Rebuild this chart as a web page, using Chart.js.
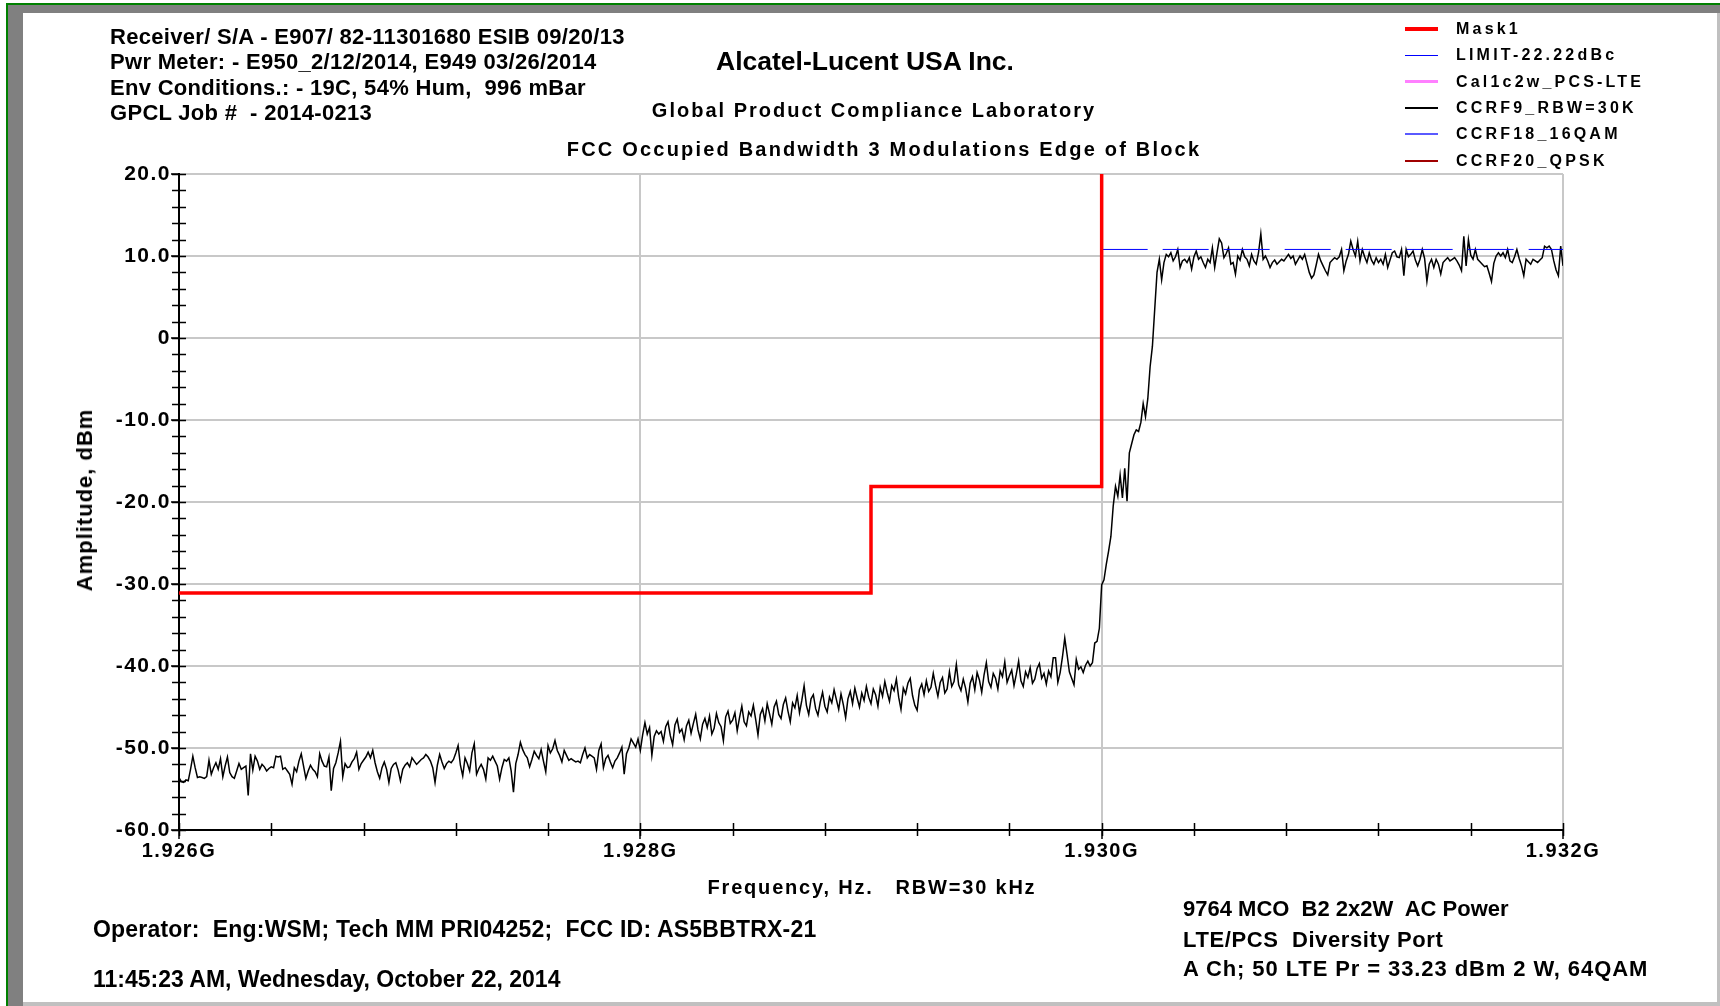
<!DOCTYPE html>
<html>
<head>
<meta charset="utf-8">
<script src="https://cdn.jsdelivr.net/npm/chart.js@4.4.1/dist/chart.umd.min.js"></script>
<style>
  html, body { margin: 0; padding: 0; width: 1720px; height: 1006px; overflow: hidden; background: #fff; }
  body { font-family: "Liberation Sans", Arial, sans-serif; font-weight: bold; color: #000; }
  .box { position: absolute; }
  #chart { position: absolute; left: 0; top: 0; }
  .txt { position: absolute; white-space: pre; line-height: 1; }
  .mid { transform: translate(-50%, -50%); }
  .lft { transform: translateY(-50%); }
  .legRow { position: absolute; left: 1405px; height: 20px; width: 300px; }
  .legRow .swatch { position: absolute; left: 0; width: 33px; }
  .legRow span { position: absolute; left: 51px; top: 50%; transform: translateY(-50%); font-size: 16px; letter-spacing: 3.2px; line-height: 1; white-space: pre; }
</style>
</head>
<body>
<!-- window frame -->
<div class="box" style="left:6px;top:3px;width:1714px;height:2px;background:#008000"></div>
<div class="box" style="left:6px;top:3px;width:2px;height:1003px;background:#008000"></div>
<div class="box" style="left:8px;top:5px;width:1712px;height:8px;background:#808080"></div>
<div class="box" style="left:8px;top:5px;width:15px;height:1001px;background:#808080"></div>
<div class="box" style="left:1717px;top:13px;width:3px;height:993px;background:#c0c0c0"></div>
<div class="box" style="left:23px;top:1002px;width:1697px;height:4px;background:#c0c0c0"></div>

<canvas id="chart" width="1720" height="1006"></canvas>

<div class="txt" style="left:110px;top:24px;font-size:22px;line-height:25.3px;letter-spacing:0.3px">Receiver/ S/A - E907/ 82-11301680 ESIB 09/20/13
Pwr Meter: - E950_2/12/2014, E949 03/26/2014
Env Conditions.: - 19C, 54% Hum,  996 mBar
GPCL Job #  - 2014-0213</div>
<div class="txt mid" style="left:865px;top:61px;font-size:26.5px">Alcatel-Lucent USA Inc.</div>
<div class="txt mid" style="left:874px;top:110px;font-size:20px;letter-spacing:2px">Global Product Compliance Laboratory</div>
<div class="txt mid" style="left:884px;top:149px;font-size:20px;letter-spacing:2.2px">FCC Occupied Bandwidth 3 Modulations Edge of Block</div>
<div class="txt" style="left:84.5px;top:500px;font-size:22px;letter-spacing:1px;transform:translate(-50%,-50%) rotate(-90deg)">Amplitude, dBm</div>
<div class="txt mid" style="left:872px;top:887px;font-size:20px;letter-spacing:1.8px">Frequency, Hz.   RBW=30 kHz</div>
<div class="txt lft" style="left:93px;top:929px;font-size:23px;letter-spacing:0.2px">Operator:  Eng:WSM; Tech MM PRI04252;  FCC ID: AS5BBTRX-21</div>
<div class="txt lft" style="left:93px;top:979px;font-size:23px">11:45:23 AM, Wednesday, October 22, 2014</div>
<div class="txt lft" style="left:1183px;top:909px;font-size:22px">9764 MCO  B2 2x2W  AC Power</div>
<div class="txt lft" style="left:1183px;top:940px;font-size:22px;letter-spacing:0.6px">LTE/PCS  Diversity Port</div>
<div class="txt lft" style="left:1183px;top:969px;font-size:22px;letter-spacing:0.9px">A Ch; 50 LTE Pr = 33.23 dBm 2 W, 64QAM</div>
<div id="legend"></div>

<script>
// series names (legend order)
const seriesNames = ['Mask1', 'LIMIT-22.22dBc', 'Cal1c2w_PCS-LTE', 'CCRF9_RBW=30K', 'CCRF18_16QAM', 'CCRF20_QPSK']

// axis ticks
const xTicksMHz = [1926, 1928, 1930, 1932]
const yTicksDbm = [-60, -50, -40, -30, -20, -10, 0, 10, 20]

// emission mask (step line)
const maskFreqMHz = [1926, 1929, 1929, 1930, 1930]
const maskDbm = [-31.1, -31.1, -18.1, -18.1, 20]

// limit line
const limitFreqMHz = [1930, 1932]
const limitDbm = [10.8, 10.8]

// measured trace, 1926 MHz start, 10 kHz sweep step
const sweepStartMHz = 1926
const sweepStepMHz = 0.01
const traceDbm = [
  -53.6,-54.1,-54.2,-53.9,-54.0,-52.6,-51.0,-52.4,-53.6,-53.5,-53.6,-53.7,-53.5,-51.5,-53.2,-52.4,-51.8,-52.6,-51.3,-53.5,
  -52.2,-51.1,-53.0,-53.5,-53.7,-52.8,-51.9,-52.6,-52.4,-52.2,-55.8,-50.7,-52.7,-51.0,-51.6,-52.6,-52.0,-52.3,-52.8,-52.5,
  -52.3,-52.4,-51.0,-51.1,-51.0,-52.6,-52.4,-52.8,-53.2,-54.4,-52.4,-52.9,-51.6,-50.7,-52.2,-53.7,-52.8,-52.1,-52.6,-52.9,
  -53.5,-50.7,-51.6,-52.2,-52.3,-51.1,-55.2,-52.5,-51.8,-50.6,-49.2,-53.5,-51.9,-52.4,-52.3,-51.7,-51.3,-50.5,-52.6,-51.9,
  -51.5,-51.1,-50.5,-51.2,-50.3,-51.8,-52.9,-53.7,-52.4,-51.7,-52.6,-54.2,-52.5,-52.0,-51.8,-52.7,-54.0,-52.6,-52.1,-51.8,
  -52.3,-51.2,-51.6,-52.0,-51.7,-51.4,-51.2,-50.8,-51.1,-51.6,-52.4,-54.2,-52.1,-50.8,-51.7,-52.5,-51.9,-51.6,-51.8,-51.4,
  -50.6,-49.7,-52.1,-53.4,-51.2,-51.9,-52.8,-50.6,-49.5,-53.2,-52.5,-52.0,-52.6,-53.8,-51.2,-51.5,-51.0,-51.6,-52.2,-53.8,
  -52.4,-51.4,-51.6,-51.2,-52.8,-55.4,-51.9,-50.8,-49.3,-50.2,-50.8,-51.2,-52.3,-51.4,-50.4,-50.9,-51.3,-50.2,-51.6,-52.9,
  -49.7,-50.6,-50.1,-49.1,-50.3,-50.9,-51.7,-50.3,-50.9,-51.5,-51.3,-51.5,-51.7,-51.6,-51.8,-50.8,-50.0,-51.2,-50.8,-51.0,
  -51.2,-52.6,-50.3,-49.5,-52.4,-51.3,-50.9,-51.7,-52.4,-51.6,-51.2,-50.6,-49.9,-53.2,-50.7,-50.0,-48.9,-49.4,-49.9,-48.9,
  -50.3,-48.4,-46.9,-48.3,-47.5,-50.9,-48.6,-47.9,-48.3,-48.0,-49.2,-47.4,-46.8,-48.5,-49.6,-47.2,-46.5,-48.1,-47.7,-49.0,
  -47.3,-46.6,-48.2,-47.0,-45.9,-47.8,-48.9,-47.1,-46.4,-47.5,-46.1,-48.3,-47.6,-45.8,-46.9,-47.4,-49.1,-46.2,-45.5,-47.0,
  -46.6,-45.7,-47.9,-46.3,-44.9,-46.8,-47.3,-45.6,-46.1,-44.8,-46.5,-48.4,-45.9,-45.2,-46.7,-44.6,-45.8,-47.1,-45.0,-44.3,
  -45.9,-46.4,-44.7,-43.9,-45.5,-46.8,-44.5,-45.1,-43.6,-45.7,-44.2,-42.4,-44.8,-45.9,-44.0,-43.5,-45.2,-46.0,-44.4,-43.2,
  -44.9,-45.6,-43.8,-44.5,-42.9,-44.1,-45.3,-43.4,-44.7,-46.3,-44.0,-43.1,-44.6,-42.7,-43.9,-45.0,-43.3,-44.2,-42.5,-43.8,
  -44.6,-42.8,-43.5,-44.9,-42.6,-43.7,-41.9,-43.2,-44.3,-42.4,-43.0,-41.6,-43.8,-45.3,-42.7,-43.4,-42.1,-41.5,-43.6,-44.8,
  -45.4,-42.9,-42.2,-43.5,-41.8,-43.1,-42.6,-40.9,-42.4,-43.7,-42.0,-41.4,-43.3,-42.8,-40.7,-42.5,-41.9,-39.8,-42.3,-43.0,
  -41.6,-42.7,-44.4,-42.1,-41.3,-42.9,-40.8,-41.7,-43.2,-41.1,-39.6,-41.9,-42.6,-40.9,-41.5,-42.8,-40.6,-41.3,-39.5,-42.0,
  -41.2,-40.5,-42.4,-41.0,-39.4,-41.8,-42.5,-40.7,-41.4,-40.2,-42.1,-41.6,-40.3,-39.7,-41.5,-40.9,-42.2,-40.6,-41.3,-39.0,
  -39.0,-42.0,-40.8,-38.9,-36.6,-38.6,-40.7,-41.5,-42.3,-39.2,-40.4,-40.1,-40.8,-39.9,-39.4,-40.0,-39.6,-37.2,-37.0,-35.4,
  -30.1,-29.5,-27.6,-26.0,-24.2,-20.5,-18.1,-19.3,-16.7,-19.5,-15.9,-19.9,-14.0,-12.9,-11.8,-11.2,-11.4,-10.3,-8.0,-9.6,
  -7.4,-3.5,-1.0,3.5,8.0,9.6,7.1,9.2,10.2,9.9,10.4,9.4,9.9,10.8,8.6,9.4,9.6,9.2,9.8,8.4,
  9.9,10.6,9.6,9.9,9.2,8.6,9.6,9.2,11.0,8.6,10.4,12.1,11.6,9.8,10.3,11.0,9.0,9.2,7.8,10.0,
  9.5,10.8,9.9,9.6,8.8,10.2,9.4,9.0,10.4,12.7,9.6,10.0,9.4,8.6,9.2,9.5,9.0,9.3,9.6,9.4,
  9.8,10.2,9.7,10.0,9.0,9.5,10.0,9.6,10.2,9.1,8.0,7.3,7.7,8.9,10.2,9.4,8.8,8.2,7.7,9.2,
  9.5,9.8,9.6,9.9,10.8,8.2,9.4,10.2,11.8,10.8,10.0,11.8,9.4,10.8,9.9,9.2,10.4,9.5,9.0,9.8,
  9.2,9.6,9.0,10.2,8.6,9.5,10.4,10.6,9.9,9.8,10.8,7.6,10.8,9.9,10.2,10.6,9.5,8.8,9.6,10.8,
  9.7,6.9,9.0,9.6,8.6,9.6,9.0,7.8,9.2,9.5,9.8,9.4,9.6,9.8,9.4,8.9,8.2,12.4,8.8,12.0,
  10.1,9.6,10.8,9.6,9.3,9.0,8.7,8.8,7.9,6.9,9.1,10.0,10.4,10.0,10.4,9.8,10.8,9.4,9.2,9.9,
  10.8,9.7,8.8,7.6,9.6,9.3,9.0,9.6,9.4,9.2,9.5,9.8,11.2,11.0,11.2,10.8,9.4,8.3,7.6,11.2,
  8.8
]

const pts = (xs, ys) => xs.map((x, i) => ({ x: x, y: ys[i] }))
const tracePts = traceDbm.map((v, i) => ({ x: sweepStartMHz + i * sweepStepMHz, y: v }))

const FONT = '"Liberation Sans", Arial, sans-serif'

// minor tick marks crossing both axes
const tickMarks = {
  id: 'tickMarks',
  beforeDraw(chart) {
    chart.ctx.letterSpacing = '1.5px'
  },
  afterDraw(chart) {
    const { ctx, chartArea: a } = chart
    const xs = chart.scales.x, ys = chart.scales.y
    ctx.save()
    ctx.letterSpacing = '0px'
    ctx.strokeStyle = '#000'
    ctx.lineWidth = 1.5
    ctx.beginPath()
    for (let k = 0; k <= 40; k++) {
      const py = Math.round(ys.getPixelForValue(-60 + k * 2)) + 0.5
      ctx.moveTo(a.left - 7, py)
      ctx.lineTo(a.left + 7, py)
    }
    for (let k = 0; k <= 15; k++) {
      const px = Math.round(xs.getPixelForValue(1926 + k * 0.4)) + 0.5
      ctx.moveTo(px, a.bottom - 7)
      ctx.lineTo(px, a.bottom + 6)
    }
    ctx.stroke()
    ctx.restore()
  }
}

const chart = new Chart(document.getElementById('chart'), {
  type: 'line',
  data: {
    datasets: [
      { label: seriesNames[0], data: pts(maskFreqMHz, maskDbm), borderColor: '#ff0000', borderWidth: 3.5, legendWidth: 4 },
      { label: seriesNames[1], data: pts(limitFreqMHz, limitDbm), borderColor: '#0000ff', borderWidth: 1, borderDash: [46, 15], legendWidth: 1 },
      { label: seriesNames[2], data: [], borderColor: '#ff80ff', borderWidth: 3, legendWidth: 3 },
      { label: seriesNames[3], data: tracePts, borderColor: '#000000', borderWidth: 1.5, legendWidth: 2 },
      { label: seriesNames[4], data: [], borderColor: '#5a5aff', borderWidth: 1.5, legendWidth: 2 },
      { label: seriesNames[5], data: [], borderColor: '#a00000', borderWidth: 2, legendWidth: 2 }
    ]
  },
  options: {
    responsive: false,
    animation: false,
    devicePixelRatio: 1,
    layout: { padding: { left: 20, right: 157, top: 174, bottom: 116 } },
    elements: { point: { radius: 0 }, line: { tension: 0 } },
    plugins: { legend: { display: false }, tooltip: { enabled: false } },
    scales: {
      x: {
        type: 'linear',
        min: xTicksMHz[0],
        max: xTicksMHz[xTicksMHz.length - 1],
        afterFit: s => { s.height = 60 },
        afterBuildTicks: s => { s.ticks = xTicksMHz.map(v => ({ value: v })) },
        ticks: {
          autoSkip: false, maxRotation: 0, padding: 0, color: '#000',
          font: { family: FONT, size: 20, weight: 'bold' },
          callback: v => (v / 1000).toFixed(3) + 'G'
        },
        grid: { color: '#c8c8c8', lineWidth: 2, tickColor: '#000', tickLength: 9, tickWidth: 1.5 },
        border: { color: '#000', width: 2 }
      },
      y: {
        min: yTicksDbm[0],
        max: yTicksDbm[yTicksDbm.length - 1],
        afterFit: s => { s.width = 159 },
        afterBuildTicks: s => { s.ticks = yTicksDbm.map(v => ({ value: v })) },
        ticks: {
          padding: 0, color: '#000',
          font: { family: FONT, size: 21, weight: 'bold' },
          callback: v => v === 0 ? '0' : v.toFixed(1)
        },
        grid: { color: '#c8c8c8', lineWidth: 2, tickColor: '#000', tickLength: 8, tickWidth: 1.5 },
        border: { color: '#000', width: 2 }
      }
    }
  },
  plugins: [tickMarks]
})

// legend at the top right, built from the datasets
const legend = document.getElementById('legend')
chart.data.datasets.forEach((ds, i) => {
  const row = document.createElement('div')
  row.className = 'legRow'
  row.style.top = (29 + i * 26.3 - 10) + 'px'
  const sw = document.createElement('div')
  sw.className = 'swatch'
  sw.style.background = ds.borderColor
  sw.style.height = ds.legendWidth + 'px'
  sw.style.top = (10 - ds.legendWidth / 2) + 'px'
  const label = document.createElement('span')
  label.textContent = ds.label
  row.appendChild(sw)
  row.appendChild(label)
  legend.appendChild(row)
})
</script>
</body>
</html>
